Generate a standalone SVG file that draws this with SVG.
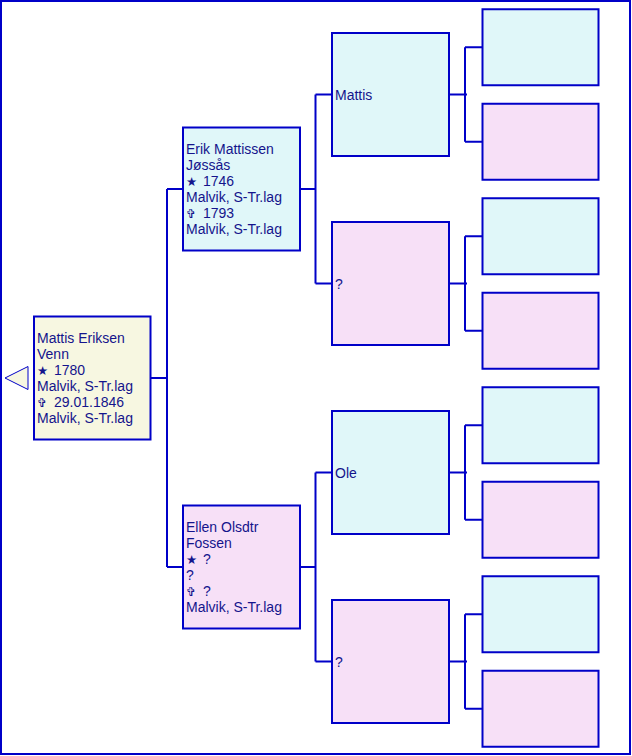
<svg xmlns="http://www.w3.org/2000/svg" width="632" height="756" viewBox="0 0 632 756">
<style>
.box{stroke:#0000C8;stroke-width:2}
.m{fill:#E0F7F9}
.f{fill:#F7E0F7}
.r{fill:#F7F7E1}
.c{fill:none;stroke:#0000C8;stroke-width:2}
text{font-family:"Liberation Sans",Arial,sans-serif;font-size:14px;fill:#14148C}
.sym{font-family:"DejaVu Sans",sans-serif;font-size:12.5px}
</style>
<rect x="1" y="1" width="629" height="753" fill="#FFFFFF" stroke="#0000C8" stroke-width="2"/>
<g id="connectors">
<path class="c" d="M150,378H168M167,189V567M167,189H183M167,567H183"/>
<path class="c" d="M300,189H316M315.5,94.5V283.5M315.5,94.5H332M315.5,283.5H332"/>
<path class="c" d="M300,567H316M315.5,472.5V661.5M315.5,472.5H332M315.5,661.5H332"/>
<path class="c" d="M449,94.5H467M465,47.25V141.75M465,47.25H482M465,141.75H482"/>
<path class="c" d="M449,283.5H467M465,236.25V330.75M465,236.25H482M465,330.75H482"/>
<path class="c" d="M449,472.5H467M465,425.25V519.75M465,425.25H482M465,519.75H482"/>
<path class="c" d="M449,661.5H467M465,614.25V708.75M465,614.25H482M465,708.75H482"/>
</g>
<g id="back-arrow">
<polygon points="5,378 28,366.5 28,389.5" fill="#F7F7E1" stroke="#0000C8" stroke-width="1"/>
</g>
<g id="root">
<rect class="box r" x="34" y="316.5" width="116.5" height="123"/>
<text x="37" y="343">Mattis Eriksen</text>
<text x="37" y="359">Venn</text>
<text x="37" y="375"><tspan class="sym">★</tspan><tspan x="54">1780</tspan></text>
<text x="37" y="391">Malvik, S-Tr.lag</text>
<text x="37" y="407"><tspan class="sym">✞</tspan><tspan x="54">29.01.1846</tspan></text>
<text x="37" y="423">Malvik, S-Tr.lag</text>
</g>
<g id="father">
<rect class="box m" x="183" y="127.5" width="117" height="123"/>
<text x="186" y="154">Erik Mattissen</text>
<text x="186" y="170">Jøssås</text>
<text x="186" y="186"><tspan class="sym">★</tspan><tspan x="203">1746</tspan></text>
<text x="186" y="202">Malvik, S-Tr.lag</text>
<text x="186" y="218"><tspan class="sym">✞</tspan><tspan x="203">1793</tspan></text>
<text x="186" y="234">Malvik, S-Tr.lag</text>
</g>
<g id="mother">
<rect class="box f" x="183" y="505.5" width="117" height="123"/>
<text x="186" y="532">Ellen Olsdtr</text>
<text x="186" y="548">Fossen</text>
<text x="186" y="564"><tspan class="sym">★</tspan><tspan x="203">?</tspan></text>
<text x="186" y="580">?</text>
<text x="186" y="596"><tspan class="sym">✞</tspan><tspan x="203">?</tspan></text>
<text x="186" y="612">Malvik, S-Tr.lag</text>
</g>
<g id="ff">
<rect class="box m" x="332" y="33" width="117" height="123"/>
<text x="335" y="99.5">Mattis</text>
</g>
<g id="fm">
<rect class="box f" x="332" y="222" width="117" height="123"/>
<text x="335" y="288.5">?</text>
</g>
<g id="mf">
<rect class="box m" x="332" y="411" width="117" height="123"/>
<text x="335" y="477.5">Ole</text>
</g>
<g id="mm">
<rect class="box f" x="332" y="600" width="117" height="123"/>
<text x="335" y="666.5">?</text>
</g>
<g id="fff"><rect class="box m" x="482.5" y="9.25" width="116" height="76"/></g>
<g id="ffm"><rect class="box f" x="482.5" y="103.75" width="116" height="76"/></g>
<g id="fmf"><rect class="box m" x="482.5" y="198.25" width="116" height="76"/></g>
<g id="fmm"><rect class="box f" x="482.5" y="292.75" width="116" height="76"/></g>
<g id="mff"><rect class="box m" x="482.5" y="387.25" width="116" height="76"/></g>
<g id="mfm"><rect class="box f" x="482.5" y="481.75" width="116" height="76"/></g>
<g id="mmf"><rect class="box m" x="482.5" y="576.25" width="116" height="76"/></g>
<g id="mmm"><rect class="box f" x="482.5" y="670.75" width="116" height="76"/></g>
</svg>
